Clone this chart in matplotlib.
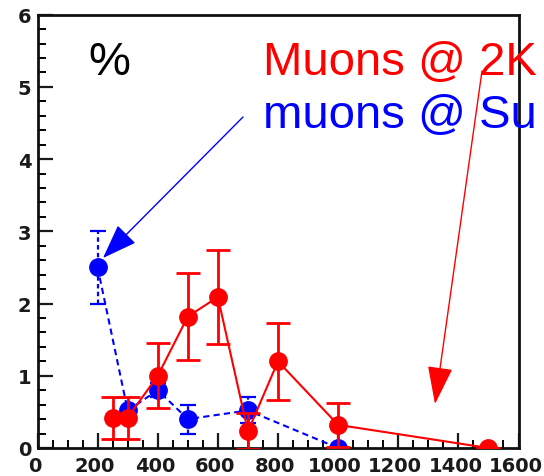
import matplotlib
matplotlib.use("Agg")
import matplotlib.pyplot as plt
import matplotlib.transforms as mtransforms
from matplotlib.ticker import MultipleLocator

# Muons @ 2K (red, solid)
red_x = [250, 300, 400, 500, 600, 700, 800, 1000, 1500]
red_y = [0.42, 0.42, 1.0, 1.82, 2.09, 0.23, 1.2, 0.32, 0.0]
red_err = [0.29, 0.29, 0.45, 0.6, 0.65, 0.25, 0.53, 0.31, 0.0]

# muons @ Su (blue, dashed)
blue_x = [200, 300, 400, 500, 700, 1000]
blue_y = [2.5, 0.52, 0.8, 0.4, 0.52, 0.0]
blue_err = [0.5, 0.0, 0.1, 0.2, 0.18, 0.0]

x_ticks = [0, 200, 400, 600, 800, 1000, 1200, 1400, 1600]
y_ticks = [0, 1, 2, 3, 4, 5, 6]

label_text = "%"
red_label = "Muons @ 2K"
blue_label = "muons @ Su"

W, H = 544, 477
fig = plt.figure(figsize=(W / 100, H / 100), dpi=100)
ax = fig.add_axes([37.5 / W, (H - 449) / H, (518.5 - 37.5) / W, (449 - 15.7) / H])

blue = ax.errorbar(blue_x, blue_y, yerr=blue_err, color="#0000ff", marker="o",
                   markersize=12.5, linestyle=(0, (3, 2)), linewidth=1.5,
                   elinewidth=1.6, capsize=6, capthick=1.6, zorder=3)
for coll in blue.lines[2]:
    coll.set_linestyle((0, (2, 1.5)))
ax.errorbar(red_x, red_y, yerr=red_err, color="#ff0000", marker="o",
            markersize=12.5, linestyle="-", linewidth=1.5,
            elinewidth=2, capsize=8.5, capthick=2, zorder=4)

ax.set_xlim(0, 1600)
ax.set_ylim(0, 6)
ax.set_xticks(x_ticks)
ax.set_yticks(y_ticks)
ax.xaxis.set_minor_locator(MultipleLocator(50))
ax.yaxis.set_minor_locator(MultipleLocator(0.2))
ax.tick_params(axis="both", which="major", direction="in", length=11, width=1.6,
               labelsize=14, colors="#1a1a1a", top=False, right=False)
ax.tick_params(axis="both", which="minor", direction="in", length=6, width=1.4,
               top=False, right=False)
ax.tick_params(axis="x", pad=6)
ax.tick_params(axis="y", pad=4.5)
for lab in ax.get_xticklabels() + ax.get_yticklabels():
    lab.set_fontfamily("DejaVu Sans")
    lab.set_fontweight("bold")
shift = mtransforms.ScaledTranslation(-3 / 100, 0, fig.dpi_scale_trans)
for lab in ax.get_xticklabels():
    lab.set_transform(lab.get_transform() + shift)
for sp in ax.spines.values():
    sp.set_linewidth(2)
    sp.set_color("#111111")

fig.text(88 / W, (H - 75) / H, label_text, fontsize=34, color="black",
         family="Liberation Sans", ha="left", va="baseline")
fig.text(263 / W, (H - 75) / H, red_label, fontsize=34, color="#ff0000",
         family="Liberation Sans", ha="left", va="baseline")
fig.text(263 / W, (H - 128) / H, blue_label, fontsize=34, color="#0000ff",
         family="Liberation Sans", ha="left", va="baseline")

ax.annotate("", xy=(103, H - 259), xycoords="figure pixels",
            xytext=(243, H - 118), textcoords="figure pixels",
            arrowprops=dict(arrowstyle="-|>,head_length=1.1,head_width=0.4",
                            mutation_scale=20, color="#0000ff", lw=1.0,
                            shrinkA=0, shrinkB=0), zorder=5)
ax.annotate("", xy=(435, H - 405), xycoords="figure pixels",
            xytext=(482, H - 72), textcoords="figure pixels",
            arrowprops=dict(arrowstyle="-|>,head_length=1.2,head_width=0.4",
                            mutation_scale=20, color="#ff0000", lw=1.0,
                            shrinkA=0, shrinkB=0), zorder=5)

fig.savefig("out.png", dpi=100)
